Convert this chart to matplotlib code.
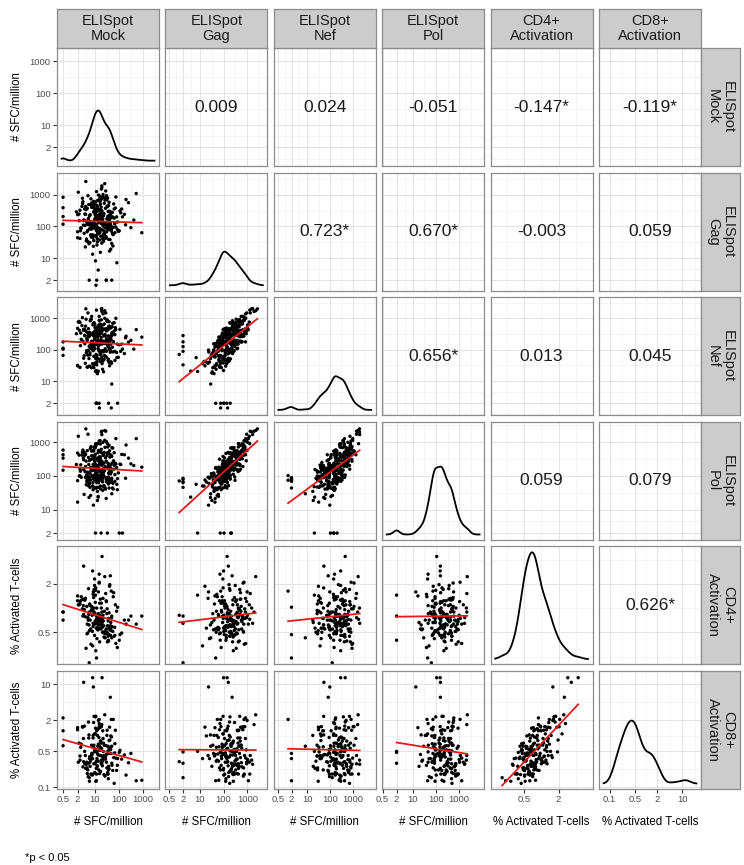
import numpy as np
import matplotlib.pyplot as plt

plt.rcParams['font.family'] = ['Liberation Sans', 'DejaVu Sans']

# ---- values, stored as log10 (# SFC/million and % activated T-cells) ----
mock_log = [
    1.16, 0.72, 1.52, 0.94, 1.35, 1.71, 0.55, 1.08, 1.46, 0.84,
    1.25, 1.86, 0.43, 1.11, 1.62, 0.79, 1.40, 1.03, 0.30, 1.66,
    0.90, 1.49, 1.22, 0.65, 1.95, 1.09, 0.98, 1.57, 0.36, 1.30,
    1.64, 0.74, 1.19, 1.38, 0.87, 2.05, 1.04, 0.95, 1.27, 1.53,
    0.81, 1.13, 2.72, 1.70, 0.59, 1.33, 1.01, 1.60, 0.50, 1.21,
    1.36, 0.92, 1.79, 1.07, -0.30, 1.51, 0.69, 1.28, 1.66, 0.96,
    1.12, 1.58, 0.58, 1.43, 1.00, 2.23, 0.78, 1.17, 1.83, 0.88,
    1.56, 0.40, 1.23, 1.05, 1.69, 0.70, 1.31, 1.42, 1.15, 1.91,
    0.94, 1.48, 1.10, 0.52, 1.63, 1.26, 2.50, 0.85, 1.34, 1.04,
    1.72, 0.76, 1.19, 1.55, 0.33, 1.29, 1.08, 2.12, 0.91, 1.22,
    1.03, 1.39, 0.63, 1.77, 1.15, -0.30, 1.57, 0.97, 1.31, 0.75,
    1.51, 1.09, 1.94, 0.82, 1.24, 1.67, 0.55, 1.35, 1.00, 2.95,
    1.20, 0.68, 1.60, 1.06, 1.37, 0.45, 1.27, 1.81, 0.95, 1.16,
    0.80, 1.68, 1.12, 1.19, 1.54, 1.01, 2.02, 0.60, 1.30, 1.58,
    1.18, 0.88, 1.75, 1.05, 0.40, 1.44, 1.23, 0.77, 1.65, 1.11,
    1.32, 1.88, 0.94, 1.56, 0.54, 1.13, 1.71, 1.04, 2.40, 0.79,
    1.26, 0.62, 1.45, 1.16, 2.30, 0.92, 1.60, 0.30, 1.08, 1.34,
    0.97, 1.67, 1.21, 0.51, 1.48, 1.00, 1.84, 0.73, 1.28, -0.30,
    1.56, 1.07, 0.64, 1.74, 1.19, 0.86, 1.37, 2.08, 0.37, 1.24,
    1.09, 1.63, 0.93, 1.31, 1.15, 0.25, 1.54, 1.02, 1.98, 1.27,
    1.21, 0.83, 1.47, 1.02, 1.69, 0.61, 1.30, 1.11, 1.88, 0.95,
    1.37, 0.70, 1.14, 1.58, 0.99, 1.26, 0.48, 1.43, 1.07, 1.76,
    0.89, 1.33, 1.62, 1.04, 0.76, 1.49, 1.18, 2.15, 0.93, 1.28,
    1.52, 1.00, 0.66, 1.39, 1.12, 1.81, 0.85, 1.24, 1.60, 0.30,
    1.10, 1.45, 0.97, 1.73, 0.57, 1.31, 1.06, 1.55, 0.81, 1.20,
    1.66, 0.92, 1.29, 1.13, 1.92, 0.74, 1.41, 1.03, 1.19, 2.62,
    0.87, 1.36, 1.09, 0.63, 1.53, 1.22, 0.96, 1.70, 1.15, 1.44,
    1.27, 1.84, 0.79, 1.34, 1.01, 1.61, 0.42, 1.17, 1.48, 0.90,
    1.40, 1.05, 1.71, 0.88, 1.25, -0.30, 1.57, 1.12, 0.72, 1.35,
    0.98, 1.50, 1.23, 1.78, 0.84, 1.14, 2.28, 1.07, 1.42, 0.67,
]
gag_log = [
    2.31, 1.87, 2.64, 2.05, 2.92, 1.46, 2.18, 2.47, 3.12, 1.73,
    2.26, 2.58, 1.95, 2.81, 1.22, 2.09, 2.73, 2.36, 1.64, 2.44,
    2.02, 2.97, 1.81, 2.53, 2.14, 0.30, 2.68, 1.99, 2.39, 3.28,
    1.58, 2.21, 2.86, 2.11, 1.91, 2.49, 2.77, 1.37, 2.33, 2.62,
    2.07, 1.76, 3.04, 2.28, 2.55, 1.69, 2.42, 2.16, 2.89, 1.93,
    2.35, 1.12, 2.71, 2.00, 2.59, 2.24, 1.83, 3.18, 2.12, 2.46,
    1.51, 2.66, 2.19, 2.83, 1.97, 2.38, 0.30, 2.51, 2.08, 2.74,
    2.27, 1.62, 2.95, 2.41, 1.88, 2.57, 2.15, 3.35, 1.79, 2.30,
    2.60, 2.04, 1.41, 2.78, 2.23, 2.50, 1.96, 2.87, 2.13, 0.91,
    2.44, 2.69, 1.85, 2.32, 3.08, 2.17, 1.67, 2.55, 2.01, 2.79,
    1.99, 2.40, 2.63, 1.74, 2.29, 2.92, 2.10, 1.55, 2.48, 2.25,
    2.84, 2.06, 1.90, 2.37, 2.70, 1.28, 2.20, 3.01, 2.43, 1.80,
    2.53, 2.14, 2.76, 0.14, 2.34, 1.94, 2.61, 2.26, 1.70, 2.99,
    2.09, 2.45, 1.60, 2.82, 2.22, 2.56, 1.86, 2.39, 3.22, 2.03,
    1.78, 2.67, 2.30, 1.98, 2.51, 2.12, 2.88, 1.45, 2.36, 2.58,
    2.19, 2.93, 1.72, 2.47, 2.04, 2.64, 0.30, 2.27, 2.75, 1.92,
    2.41, 1.35, 2.57, 2.16, 2.85, 2.00, 2.33, 1.83, 3.10, 2.24,
    2.62, 1.96, 2.38, 2.72, 1.65, 2.49, 2.11, 2.97, 1.89, 2.31,
    2.05, 2.54, 3.42, 1.77, 2.28, 2.68, 1.53, 2.43, 2.18, 2.80,
    1.91, 2.35, 2.60, 2.13, 0.62, 2.46, 2.90, 2.07, 1.84, 2.52,
    1.92, 2.15, 1.68, 2.41, 1.85, 2.03, 1.47, 2.26, 1.98, 2.72,
    1.76, 2.08, 2.34, 1.59, 1.95, 2.19, 2.63, 1.81, 2.00, 1.38,
    2.12, 1.89, 2.48, 1.71, 2.05, 0.30, 1.93, 2.30, 1.64, 2.86,
    1.99, 2.22, 1.54, 2.07, 1.83, 2.55, 1.96, 1.18, 2.14, 2.37,
    1.87, 1.62, 2.01, 2.44, 1.78, 2.10, 2.68, 1.91, 1.49, 2.17,
    2.04, 1.73, 2.28, 1.97, 0.85, 2.11, 1.84, 2.52, 1.93, 2.20,
    1.66, 2.06, 1.90, 2.38, 2.02, 1.57, 2.79, 1.88, 2.24, 1.95,
    2.09, 1.80, 2.33, 1.61, 2.00, 2.46, 1.86, 2.13, 0.30, 1.94,
    1.75, 2.18, 1.98, 2.60, 1.69, 2.07, 1.90, 2.31, 1.52, 2.01,
    2.16, 1.83, 2.42, 1.97, 1.72, 2.25, 2.05, 1.88, 2.90, 1.60,
]
nef_log = [
    2.46, 1.45, 2.95, 1.97, 3.14, 0.91, 2.65, 2.21, 3.17, 2.11,
    1.93, 2.70, 2.53, 2.62, 1.49, 1.48, 2.82, 2.72, 1.50, 1.97,
    2.26, 2.60, 1.70, 2.97, 0.30, 1.52, 2.86, 1.70, 2.90, 3.22,
    1.99, 1.98, 2.93, 2.44, 1.43, 2.65, 2.42, 1.99, 2.31, 2.90,
    1.90, 2.29, 2.64, 2.49, 2.46, 1.38, 2.81, 1.60, 3.02, 1.97,
    2.64, 1.56, 2.50, 1.34, 2.05, 2.26, 1.45, 3.30, 2.69, 2.16,
    1.26, 2.74, 2.65, 2.49, 2.16, 1.88, 2.10, 2.78, 1.95, 3.06,
    2.64, 1.44, 2.51, 2.47, 0.15, 2.30, 2.67, 3.24, 2.04, 1.91,
    2.54, 2.67, 1.61, 2.26, 2.37, 2.80, 2.30, 2.97, 1.68, 1.31,
    2.55, 2.41, 2.20, 2.17, 2.88, 2.65, 0.30, 2.18, 2.23, 2.82,
    1.58, 2.66, 2.60, 2.23, 1.71, 2.25, 2.44, 1.43, 2.24, 2.67,
    2.92, 1.71, 2.18, 2.92, 2.54, 1.61, 1.73, 2.79, 2.58, 2.40,
    2.23, 2.35, 2.89, 1.85, 2.27, 2.33, 2.18, 2.86, 1.51, 2.71,
    2.55, 2.31, 1.24, 3.06, 2.23, 2.03, 2.16, 2.19, 3.31, 0.30,
    1.96, 2.27, 2.84, 1.72, 2.87, 2.03, 2.57, 1.72, 1.92, 2.72,
    1.97, 3.00, 2.15, 2.10, 2.62, 2.48, 2.45, 2.59, 2.24, 2.12,
    2.74, 1.57, 2.28, 2.26, 2.43, 2.47, 2.28, 1.49, 3.26, 1.64,
    2.44, 2.36, 2.63, 2.27, 1.77, 2.47, 2.48, 3.17, 1.62, 2.02,
    1.66, 2.69, 3.30, 2.08, 0.30, 2.96, 1.30, 1.95, 2.62, 2.63,
    2.17, 2.04, 2.79, 1.56, 1.32, 2.51, 2.66, 2.43, 1.76, 2.63,
    2.27, 2.05, 2.20, 2.49, 1.61, 2.44, 1.77, 2.21, 2.64, 2.84,
    1.94, 2.55, 2.14, 2.19, 2.20, 1.87, 2.77, 2.20, 0.30, 1.93,
    2.14, 2.22, 2.75, 1.56, 2.53, 1.95, 2.14, 2.02, 2.08, 2.95,
    2.25, 2.32, 1.90, 1.69, 2.40, 2.60, 2.15, 1.63, 2.02, 2.68,
    2.27, 1.78, 1.79, 2.73, 1.81, 2.60, 2.62, 2.14, 1.84, 0.15,
    2.17, 2.15, 2.52, 1.71, 1.75, 2.45, 1.82, 2.69, 2.46, 2.02,
    2.12, 2.26, 1.81, 2.75, 2.17, 1.85, 2.83, 1.57, 2.46, 2.44,
    2.39, 1.66, 2.44, 2.19, 2.38, 2.26, 2.13, 2.56, 2.25, 2.01,
    1.97, 2.53, 2.46, 2.49, 1.88, 1.82, 2.30, 2.43, 1.83, 2.25,
    2.08, 2.35, 2.60, 2.26, 2.16, 2.31, 2.38, 0.30, 3.00, 1.97,
]
pol_log = [
    2.18, 2.11, 2.68, 2.34, 2.63, 1.47, 2.48, 1.97, 3.33, 1.42,
    2.48, 2.38, 2.33, 2.28, 1.88, 1.96, 2.70, 2.84, 1.22, 2.23,
    1.99, 3.02, 2.17, 2.44, 1.92, 1.66, 2.31, 1.97, 2.62, 3.33,
    2.08, 1.71, 3.04, 2.22, 2.15, 2.35, 2.95, 1.13, 0.30, 2.96,
    1.66, 2.19, 3.11, 1.91, 2.61, 1.93, 2.43, 2.32, 2.70, 2.00,
    2.61, 1.70, 2.20, 2.19, 2.63, 1.95, 1.88, 3.31, 2.32, 2.74,
    1.27, 2.35, 2.70, 2.85, 1.64, 2.63, 1.80, 2.44, 2.35, 2.74,
    2.68, 2.00, 2.45, 2.34, 1.87, 2.75, 2.03, 3.35, 1.39, 2.25,
    2.17, 2.44, 1.93, 2.77, 2.13, 2.33, 2.36, 2.87, 2.20, 0.30,
    2.84, 2.34, 1.66, 2.38, 3.18, 1.96, 1.64, 2.64, 2.01, 2.51,
    2.25, 2.38, 2.64, 1.61, 2.31, 2.77, 2.67, 1.67, 1.87, 2.55,
    2.61, 2.22, 1.59, 2.81, 2.56, 1.82, 2.19, 3.00, 2.17, 2.26,
    2.57, 1.83, 2.91, 1.85, 2.67, 1.96, 2.13, 2.69, 1.91, 2.76,
    1.96, 2.62, 1.54, 2.74, 2.68, 2.19, 0.30, 2.67, 3.23, 1.87,
    1.94, 2.16, 2.83, 2.26, 2.20, 2.25, 3.05, 1.36, 2.19, 2.51,
    2.37, 3.11, 1.59, 2.21, 2.54, 2.96, 1.93, 1.99, 2.53, 1.76,
    2.39, 1.96, 2.54, 1.80, 2.92, 2.18, 2.66, 1.86, 2.96, 2.40,
    2.86, 1.89, 2.39, 2.72, 1.33, 2.57, 1.84, 3.24, 2.18, 2.53,
    2.26, 2.52, 3.40, 1.64, 1.91, 2.49, 1.68, 2.34, 2.00, 2.95,
    1.80, 2.56, 2.52, 2.32, 1.37, 2.34, 2.86, 1.88, 2.09, 2.70,
    1.88, 2.25, 2.25, 2.05, 1.81, 2.13, 1.98, 1.97, 2.35, 2.60,
    2.12, 1.99, 2.30, 2.08, 1.93, 2.45, 2.62, 1.65, 1.95, 1.78,
    2.22, 1.82, 2.75, 1.99, 1.88, 1.83, 2.22, 0.30, 1.80, 2.79,
    1.82, 2.48, 1.74, 1.71, 2.50, 2.32, 2.16, 1.70, 1.64, 2.68,
    2.23, 1.61, 2.23, 2.38, 1.45, 2.42, 2.90, 1.89, 2.07, 2.01,
    2.06, 2.22, 2.03, 1.95, 1.75, 2.09, 2.15, 2.64, 1.92, 2.31,
    2.23, 2.04, 2.06, 2.28, 0.30, 1.88, 2.77, 2.12, 2.13, 2.28,
    2.08, 2.04, 2.46, 1.57, 2.43, 2.34, 2.14, 1.95, 1.90, 2.25,
    1.98, 2.09, 2.58, 2.60, 1.61, 2.17, 1.76, 2.53, 1.97, 2.05,
    2.31, 1.86, 2.41, 2.45, 1.88, 2.69, 1.93, 1.84, 3.06, 2.03,
]
# activation only measured for the first 180 subjects
cd4_log = [
    -0.14, -0.31, -0.01, -0.23, 0.12, -0.37, -0.08, -0.18, 0.18, -0.26,
    -0.21, 0.04, 0.09, -0.11, 0.27, -0.28, -0.04, -0.16, 0.15, -0.34,
    -0.09, 0.08, -0.25, -0.50, 0.01, -0.19, 0.23, -0.13, 0.04, -0.05,
    -0.27, -0.15, 0.32, -0.22, -0.03, -0.33, -0.17, 0.20, -0.10, -0.42,
    0.03, -0.24, -0.20, -0.12, 0.10, -0.30, -0.20, -0.06, -0.01, 0.06,
    -0.16, -0.47, 0.19, -0.25, -0.05, -0.07, -0.32, 0.00, -0.22, 0.13,
    -0.18, -0.41, -0.02, -0.29, 0.36, -0.15, -0.68, -0.08, -0.24, 0.02,
    -0.35, 0.05, -0.12, -0.53, 0.21, -0.20, 0.64, 0.39, -0.27, -0.04,
    -0.19, 0.09, -0.38, -0.10, 0.29, -0.26, -0.10, -0.45, -0.13, 0.16,
    -0.23, -0.08, 0.42, -0.32, 0.04, -0.17, -0.62, -0.31, -0.29, -0.14,
    0.07, -0.36, -0.11, 0.14, -0.21, -0.05, -0.40, -0.07, -0.18, 0.24,
    -0.30, 0.00, -0.49, -0.15, 0.11, -0.25, 0.52, -0.09, -0.34, -0.10,
    -0.17, 0.02, -0.26, -0.09, -0.31, 0.14, -0.12, -0.35, -0.04, 0.20,
    0.05, -0.28, -0.15, 0.31, -0.22, -0.06, -0.40, 0.10, -0.19, -0.33,
    -0.08, -0.02, -0.29, 0.25, 0.08, -0.37, -0.13, -0.21, 0.40, -0.11,
    -0.24, -0.44, 0.17, -0.16, 0.03, -0.27, -0.10, 0.22, -0.15, -0.05,
    -0.20, 0.12, -0.32, -0.07, -0.20, 0.46, -0.23, 0.09, -0.14, -0.30,
    0.00, -0.18, -0.42, 0.11, -0.26, 0.28, -0.34, -0.12, 0.06, -0.15,
]
cd8_log = [
    -0.16, -0.66, 0.11, -0.74, -0.05, -0.20, -0.50, -0.27, -0.38, -0.47,
    -0.69, 0.11, -0.22, 0.12, 0.17, -0.88, -0.18, -0.54, 0.16, -0.26,
    -0.36, -0.51, -0.21, -0.55, -0.44, -0.31, 0.38, -0.66, -0.14, 0.22,
    -0.34, -0.79, 0.32, -0.38, -0.39, -0.28, 0.15, 0.95, -0.53, -0.74,
    -0.51, -0.35, -0.87, -0.02, -0.30, -0.49, -0.71, -0.09, 0.18, -0.27,
    -0.30, -0.44, -0.42, -0.63, 0.10, 0.01, -0.62, -0.47, -0.26, 0.26,
    -0.59, -0.59, 0.19, -0.78, 0.04, -0.37, -0.81, -0.66, -0.33, -0.18,
    -0.29, -0.39, -0.27, -0.88, 0.32, -0.73, 1.13, 0.41, -0.49, -0.67,
    -0.04, -0.19, -0.44, -0.60, -0.08, -0.38, -0.34, -0.74, 0.10, -0.30,
    -0.57, -0.04, 0.24, -0.20, -0.51, -0.24, -0.87, -0.45, -0.76, 0.16,
    0.04, -0.75, -0.63, 0.32, -0.37, 0.35, -0.83, -0.18, -0.49, 0.27,
    -0.62, 0.10, -0.57, -0.59, -0.10, 0.00, 1.04, -0.46, -0.29, -0.86,
    -0.28, -0.51, -0.24, -0.50, -0.14, -0.16, -0.14, -0.92, -0.22, 0.30,
    -0.40, -0.34, 0.01, 0.18, -0.71, -0.25, -0.32, -0.54, -0.55, -0.34,
    -0.03, -0.34, -0.67, 0.38, -0.47, -0.41, -0.38, 0.02, 0.75, -0.58,
    -0.58, -0.43, 0.01, -0.74, -0.05, -0.20, -0.53, 0.37, -0.52, -0.44,
    -0.10, -0.38, -0.45, 0.14, -0.76, 1.13, -0.64, 0.12, -0.74, -0.41,
    -0.54, -0.21, -0.73, 0.17, -0.36, -0.31, -0.15, -0.54, 0.18, -0.19,
]

strip_labels = ['ELISpot\nMock', 'ELISpot\nGag', 'ELISpot\nNef', 'ELISpot\nPol',
                'CD4+\nActivation', 'CD8+\nActivation']
axis_titles = ['# SFC/million'] * 4 + ['% Activated T-cells'] * 2
corr_text = [
    ['0.009', '0.024', '-0.051', '-0.147*', '-0.119*'],
    ['0.723*', '0.670*', '-0.003', '0.059'],
    ['0.656*', '0.013', '0.045'],
    ['0.059', '0.079'],
    ['0.626*'],
]
breaks = [0.1, 0.5, 2, 10, 100, 1000]

n = len(gag_log)
missing = [np.nan] * (n - len(cd4_log))
data = [np.array(mock_log), np.array(gag_log), np.array(nef_log), np.array(pol_log),
        np.array(cd4_log + missing), np.array(cd8_log + missing)]

# ---- layout (pixels) ----
W, H = 744, 865
col_left = [57, 165.4, 273.8, 382.2, 490.6, 599]
row_top = [48, 172.6, 297.2, 421.8, 546.4, 671]
pw, ph = 102, 118
xlims = [(-0.55, 3.66), (-0.44, 3.84), (-0.48, 4.02), (-0.32, 4.08), (-0.88, 0.89), (-1.29, 1.51)]
ylims = [(-0.28, 3.41), (-0.03, 3.70), (-0.08, 3.67), (0.10, 3.61), (-0.70, 0.765), (-1.03, 1.26)]
diag_peak = [0.47, 0.33, 0.33, 0.62, 0.95, 0.58]

border = '#8C8C8C'
fig = plt.figure(figsize=(W / 100, H / 100), dpi=100)


def px_axes(left, top, w, h):
    return fig.add_axes([left / W, 1 - (top + h) / H, w / W, h / H])


def grid_lines(lim):
    lb = np.log10(breaks)
    b = lb[(lb >= lim[0]) & (lb <= lim[1])]
    mids = list((b[:-1] + b[1:]) / 2)
    if len(b) > 1:
        mids += [b[0] - (b[1] - b[0]) / 2, b[-1] + (b[-1] - b[-2]) / 2]
    mids = [m for m in mids if lim[0] <= m <= lim[1]]
    return b, mids


def kde(v, grid):
    v = v[np.isfinite(v)]
    sd = v.std(ddof=1)
    iqr = np.subtract(*np.percentile(v, [75, 25]))
    bw = 0.9 * min(sd, iqr / 1.34) * len(v) ** -0.2
    z = (grid[:, None] - v[None, :]) / bw
    return np.exp(-0.5 * z ** 2).sum(1)


for i in range(6):
    for j in range(6):
        ax = px_axes(col_left[j], row_top[i], pw, ph)
        ax.set_xlim(xlims[j])
        ax.set_ylim(ylims[i])
        xb, xm = grid_lines(xlims[j])
        yb, ym = grid_lines(ylims[i])
        for v in xm:
            ax.axvline(v, color='#F3F3F3', lw=0.6, zorder=0)
        for v in ym:
            ax.axhline(v, color='#F3F3F3', lw=0.6, zorder=0)
        for v in xb:
            ax.axvline(v, color='#E3E3E3', lw=0.7, zorder=0)
        for v in yb:
            ax.axhline(v, color='#E3E3E3', lw=0.7, zorder=0)
        for s in ax.spines.values():
            s.set_color(border)
            s.set_linewidth(0.9)

        x, y = data[j], data[i]
        if i > j:
            ok = np.isfinite(x) & np.isfinite(y)
            ax.scatter(x[ok], y[ok], s=6, c='black', edgecolors='none', zorder=2)
            k, c = np.polyfit(x[ok], y[ok], 1)
            xs = np.array([x[ok].min(), x[ok].max()])
            ax.plot(xs, k * xs + c, color='#E31A1C', lw=1.3, zorder=3)
        elif i == j:
            v = x[np.isfinite(x)]
            lo, hi = xlims[j]
            g = np.linspace(lo + 0.045 * (hi - lo), hi - 0.045 * (hi - lo), 300)
            d = kde(v, g)
            ylo, yhi = ylims[i]
            frac = 0.045 + d / d.max() * (diag_peak[i] - 0.045)
            ax.plot(g, ylo + frac * (yhi - ylo), color='black', lw=1.3)
        else:
            ax.text(0.5, 0.5, corr_text[i][j - i - 1], transform=ax.transAxes,
                    ha='center', va='center', fontsize=12.5, color='#1A1A1A')

        ax.tick_params(length=3, width=0.8, color='#333333', labelsize=6.8,
                       labelcolor='#4D4D4D', pad=1.5)
        if j == 0:
            ax.set_yticks(yb)
            ax.set_yticklabels([f'{10 ** v:g}' for v in yb])
        else:
            ax.set_yticks([])
        if i == 5:
            ax.set_xticks(xb)
            ax.set_xticklabels([f'{10 ** v:g}' for v in xb])
        else:
            ax.set_xticks([])

# strips on top and right
for j in range(6):
    sa = px_axes(col_left[j], 9, pw, 39)
    sa.set_facecolor('#CCCCCC')
    sa.set_xticks([])
    sa.set_yticks([])
    for s in sa.spines.values():
        s.set_color(border)
        s.set_linewidth(0.9)
    sa.text(0.5, 0.5, strip_labels[j], ha='center', va='center', fontsize=10.5,
            linespacing=1.05, color='#1A1A1A', transform=sa.transAxes)
for i in range(6):
    sa = px_axes(701, row_top[i], 39, ph)
    sa.set_facecolor('#CCCCCC')
    sa.set_xticks([])
    sa.set_yticks([])
    for s in sa.spines.values():
        s.set_color(border)
        s.set_linewidth(0.9)
    sa.text(0.5, 0.5, strip_labels[i], ha='center', va='center', fontsize=10.5,
            linespacing=1.05, rotation=-90, color='#1A1A1A', transform=sa.transAxes)

# axis titles
for i in range(6):
    fig.text(17 / W, 1 - (row_top[i] + ph / 2) / H, axis_titles[i], rotation=90,
             ha='center', va='center', fontsize=8.3)
for j in range(6):
    fig.text((col_left[j] + pw / 2) / W, 1 - 822 / H, axis_titles[j],
             ha='center', va='center', fontsize=8.3)

fig.text(25 / W, 1 - 863 / H, '*p < 0.05', ha='left', va='bottom', fontsize=8)

fig.savefig('out.png', dpi=100)
